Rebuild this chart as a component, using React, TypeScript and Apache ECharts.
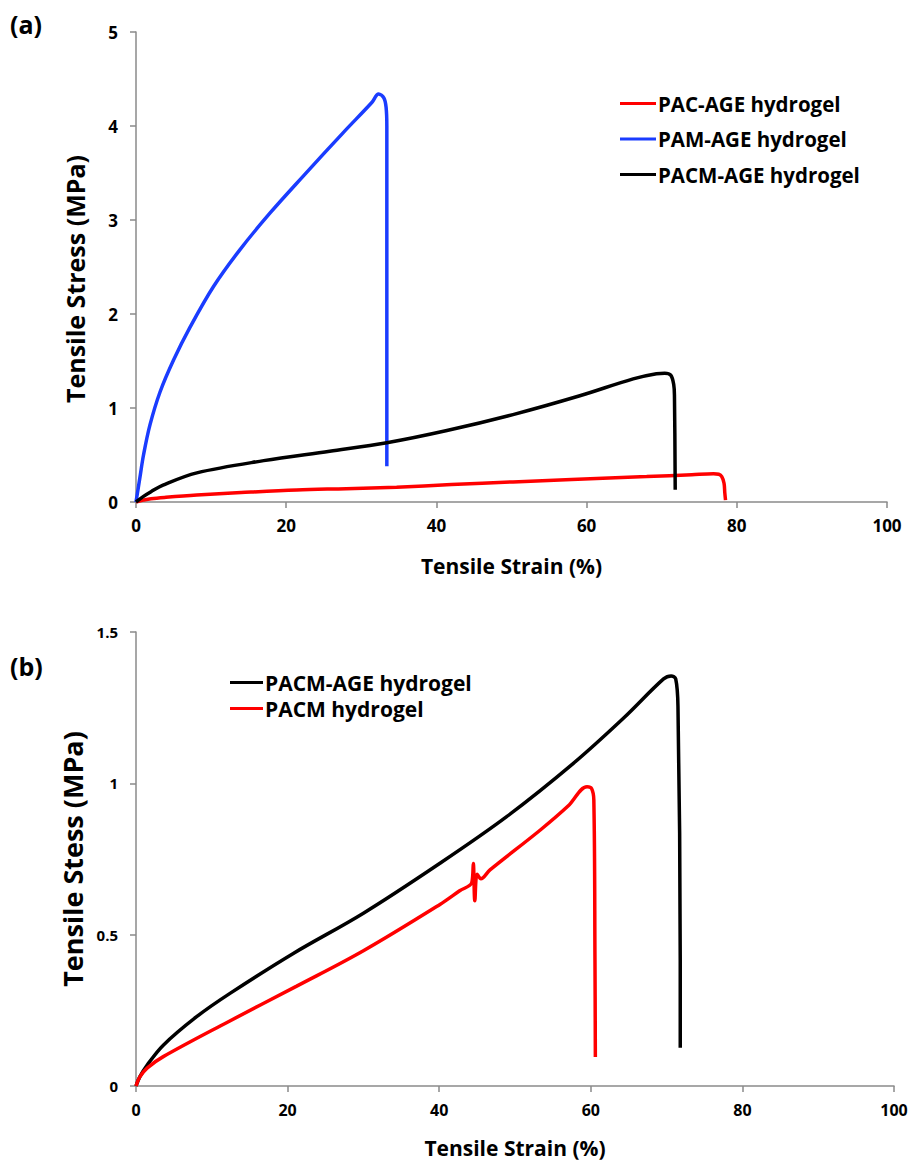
import React, { useEffect, useRef } from "react";
import * as echarts from "echarts";

// ---------- Data ----------
const xTicksA = [0, 20, 40, 60, 80, 100];
const yTicksA = [0, 1, 2, 3, 4, 5];
const yTicksB = [0, 0.5, 1, 1.5];

const legendA = ["PAC-AGE hydrogel", "PAM-AGE hydrogel", "PACM-AGE hydrogel"];
const legendB = ["PACM-AGE hydrogel", "PACM hydrogel"];

// Panel (a)
const pacAgeA: number[][] = [
  [0, 0], [1, 0.02], [2, 0.035], [4, 0.05], [8.1, 0.074], [14, 0.1], [21.4, 0.128],
  [28, 0.142], [34.7, 0.158], [42, 0.185], [50.2, 0.214], [58, 0.24], [68, 0.27],
  [74, 0.29], [76.9, 0.3], [77.6, 0.295], [78, 0.27], [78.3, 0.2], [78.4, 0.1], [78.5, 0.02],
];
const pamAgeA: number[][] = [
  [0, 0], [0.5, 0.25], [1, 0.5], [1.86, 0.82], [3.2, 1.17], [5.0, 1.51], [7.2, 1.86],
  [10.3, 2.29], [13.8, 2.68], [17.8, 3.07], [22.3, 3.47], [27.6, 3.93], [31.4, 4.25],
  [32.3, 4.34], [33.0, 4.3], [33.3, 4.2], [33.4, 4.0], [33.4, 0.38],
];
const pacmAgeA: number[][] = [
  [0, 0], [1, 0.06], [2, 0.11], [3.6, 0.18], [8.1, 0.31], [17, 0.44], [25.8, 0.54],
  [33.4, 0.63], [41.4, 0.76], [50.2, 0.93], [59.1, 1.13], [66.2, 1.31], [69.3, 1.365],
  [70.4, 1.37], [71.2, 1.35], [71.6, 1.25], [71.7, 1.12], [71.8, 0.13],
];

// Panel (b)
const pacmAgeB: number[][] = [
  [0, 0], [0.5, 0.03], [1.5, 0.07], [3.6, 0.135], [8, 0.229], [12.4, 0.306], [20.75, 0.438],
  [30, 0.571], [40.1, 0.736], [48.9, 0.89], [57.7, 1.066], [64.3, 1.215], [69.6, 1.345],
  [70.6, 1.355], [71.2, 1.345], [71.5, 1.253], [71.8, 0.416], [71.8, 0.126],
];
const pacmB: number[][] = [
  [0, 0], [0.5, 0.03], [1.5, 0.06], [3.6, 0.097], [12, 0.21], [21.2, 0.33], [30, 0.447],
  [40.1, 0.6], [42.7, 0.645], [44.3, 0.672], [44.5, 0.735], [44.7, 0.612], [45, 0.7],
  [45.5, 0.685], [46.7, 0.714], [53.3, 0.845], [57, 0.925], [59.5, 0.989], [60.1, 0.983],
  [60.4, 0.945], [60.55, 0.416], [60.6, 0.096],
];

const FONT = "'Open Sans', sans-serif";
const AXIS_GRAY = "#8a8a8a";

export default function App() {
  const ref = useRef<HTMLDivElement>(null);

  useEffect(() => {
    document.body.style.margin = "0";
    const chart = echarts.init(ref.current!, undefined, { renderer: "svg" });

    const txt = (size: number) => ({ fontSize: size, fontWeight: "bold", color: "#000", fontFamily: FONT });

    const axisCommon = {
      type: "value" as const,
      axisLine: { show: true, lineStyle: { color: AXIS_GRAY, width: 1.5 } },
      axisTick: { show: true, length: 6, lineStyle: { color: AXIS_GRAY, width: 1.5 } },
      splitLine: { show: false },
    };

    const line = (name: string, data: number[][], color: string, idx: number) => ({
      type: "line" as const,
      name,
      data,
      xAxisIndex: idx,
      yAxisIndex: idx,
      showSymbol: false,
      symbol: "none",
      smooth: 0.35,
      lineStyle: { color, width: 3.5 },
      itemStyle: { color },
      emphasis: { disabled: true },
    });

    chart.setOption({
      animation: false,
      textStyle: { fontFamily: FONT, fontWeight: "bold", color: "#000" },
      grid: [
        { left: 136, top: 32, width: 751, height: 470 },
        { left: 136, top: 632, width: 758, height: 454 },
      ],
      xAxis: [
        {
          ...axisCommon,
          gridIndex: 0,
          min: xTicksA[0],
          max: xTicksA[xTicksA.length - 1],
          interval: 20,
          axisLabel: { margin: 15, ...txt(17) },
          name: "Tensile Strain (%)",
          nameLocation: "middle",
          nameGap: 53,
          nameTextStyle: txt(21),
        },
        {
          ...axisCommon,
          gridIndex: 1,
          min: xTicksA[0],
          max: xTicksA[xTicksA.length - 1],
          interval: 20,
          axisLabel: { margin: 16, ...txt(16) },
          name: "Tensile Strain (%)",
          nameLocation: "middle",
          nameGap: 51,
          nameTextStyle: txt(21),
        },
      ],
      yAxis: [
        {
          ...axisCommon,
          gridIndex: 0,
          min: yTicksA[0],
          max: yTicksA[yTicksA.length - 1],
          interval: 1,
          axisLabel: { margin: 18, ...txt(17) },
          name: "Tensile Stress (MPa)",
          nameLocation: "middle",
          nameGap: 49,
          nameTextStyle: { ...txt(25), padding: [0, 24, 0, 0] },
        },
        {
          ...axisCommon,
          gridIndex: 1,
          min: yTicksB[0],
          max: yTicksB[yTicksB.length - 1],
          interval: 0.5,
          axisLabel: { margin: 18, ...txt(15) },
          name: "Tensile Stess (MPa)",
          nameLocation: "middle",
          nameGap: 41,
          nameTextStyle: txt(27),
        },
      ],
      legend: [
        {
          data: legendA,
          orient: "vertical",
          left: 615,
          top: 88,
          icon: "rect",
          itemWidth: 36,
          itemHeight: 3,
          itemGap: 14.5,
          selectedMode: false,
          textStyle: { ...txt(20.5), padding: [0, 0, 0, -3] },
        },
        {
          data: legendB,
          orient: "vertical",
          left: 225,
          top: 667,
          icon: "rect",
          itemWidth: 33,
          itemHeight: 3,
          itemGap: 5,
          selectedMode: false,
          textStyle: { ...txt(21), padding: [0, 0, 0, -3] },
        },
      ],
      graphic: [
        {
          type: "text",
          left: 10,
          top: 11,
          style: { text: "(a)", fontSize: 25, fontWeight: "bold", fill: "#000", fontFamily: FONT },
        },
        {
          type: "text",
          left: 10,
          top: 653,
          style: { text: "(b)", fontSize: 25, fontWeight: "bold", fill: "#000", fontFamily: FONT },
        },
      ],
      series: [
        line("PAC-AGE hydrogel", pacAgeA, "#ff0000", 0),
        line("PAM-AGE hydrogel", pamAgeA, "#1a3cff", 0),
        line("PACM-AGE hydrogel", pacmAgeA, "#000000", 0),
        line("PACM-AGE hydrogel", pacmAgeB, "#000000", 1),
        line("PACM hydrogel", pacmB, "#ff0000", 1),
      ],
    });

    return () => chart.dispose();
  }, []);

  return (
    <div
      ref={ref}
      style={{ position: "absolute", left: 0, top: 0, width: 912, height: 1160, background: "#fff" }}
    />
  );
}
